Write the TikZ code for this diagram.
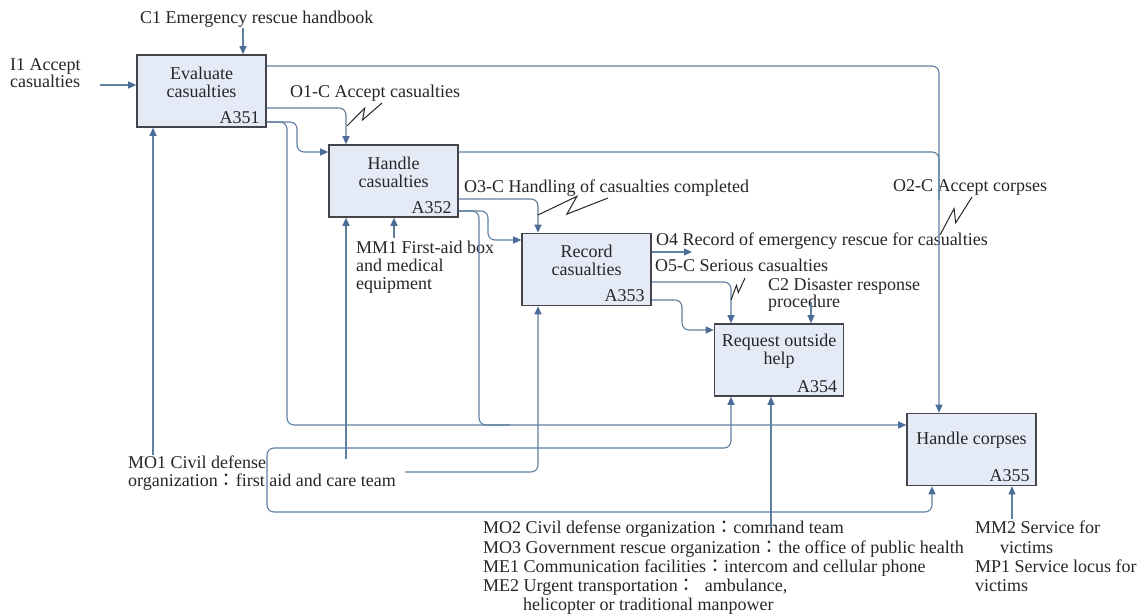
\documentclass[tikz,border=0pt]{standalone}
\usepackage{fontspec}
\setmainfont{Liberation Serif}
\newfontfamily\cjkfont{Noto Sans CJK TC}
\newcommand{\wcolon}{{\cjkfont ：}}
\usetikzlibrary{arrows.meta,calc}
\definecolor{boxfill}{RGB}{228,235,246}
\definecolor{boxedge}{RGB}{68,68,74}
\definecolor{wire}{RGB}{96,128,162}
\definecolor{tipcol}{RGB}{74,108,150}
\definecolor{txt}{RGB}{38,38,42}
\begin{document}
\begin{tikzpicture}[x=1pt,y=-1pt,
  font=\fontsize{18}{17.8}\selectfont,
  every node/.style={text=txt, inner sep=0pt},
  actbox/.style={draw=boxedge, fill=boxfill, line width=1.6pt,
    minimum width=129pt, minimum height=72pt},
  acttitle/.style={align=center},
  actid/.style={anchor=south east},
  lbl/.style={anchor=north west, align=left},
  wireline/.style={draw=wire, line width=1.1pt, rounded corners=7pt},
  flow/.style={wireline, -{Triangle[length=8pt,width=7pt,color=tipcol]}},
  zig/.style={draw=black!85, line width=1pt, line join=miter}]

\fill[white] (0,0) rectangle (1142,615);
\useasboundingbox (0,0) rectangle (1142,615);

% activity boxes
\node[actbox] (A351) at (201.5,91) {};
\node[actbox] (A352) at (393.5,181) {};
\node[actbox] (A353) at (586.5,269.5) {};
\node[actbox] (A354) at (779,360) {};
\node[actbox] (A355) at (971.5,449.5) {};

\node[acttitle] (t351) at ($(A351.center)+(0,-9)$) {Evaluate\\casualties};
\node[acttitle] (t352) at ($(A352.center)+(0,-9)$) {Handle\\casualties};
\node[acttitle] (t353) at ($(A353.center)+(0,-9)$) {Record\\casualties};
\node[acttitle] (t354) at ($(A354.center)+(0,-9)$) {Request outside\\help};
\node[acttitle] (t355) at ($(A355.center)+(0,-9)$) {Handle corpses};

\node[actid] (i351) at ($(A351.south east)+(-7,-4)$) {A351};
\node[actid] (i352) at ($(A352.south east)+(-7,-4)$) {A352};
\node[actid] (i353) at ($(A353.south east)+(-7,-4)$) {A353};
\node[actid] (i354) at ($(A354.south east)+(-7,-4)$) {A354};
\node[actid] (i355) at ($(A355.south east)+(-7,-4)$) {A355};

% arrow labels
\node[lbl] (c1) at (140,11) {C1 Emergency rescue handbook};
\node[lbl] (i1) at (10,58) {I1 Accept\\casualties};
\node[lbl] (o1) at (290,85) {O1-C Accept casualties};
\node[lbl] (o3) at (464,180) {O3-C Handling of casualties completed};
\node[lbl] (o2) at (893,179) {O2-C Accept corpses};
\node[lbl] (o4) at (656,233) {O4 Record of emergency rescue for casualties};
\node[lbl] (o5) at (655,259) {O5-C Serious casualties};
\node[lbl] (c2) at (768,278) {C2 Disaster response\\procedure};
\node[lbl] (mm1) at (356,241) {MM1 First-aid box\\and medical\\equipment};
\node[lbl] (mo1) at (128,456) {MO1 Civil defense\\organization\wcolon first aid and care team};
\node[lbl, font=\fontsize{18}{19.2}\selectfont] (mo2) at (483,521)
  {MO2 Civil defense organization\wcolon command team\\
   MO3 Government rescue organization\wcolon the office of public health\\
   ME1 Communication facilities\wcolon intercom and cellular phone\\
   ME2 Urgent transportation\wcolon\ \ ambulance,\\
   \hspace*{40pt}helicopter or traditional manpower};
\node[lbl, font=\fontsize{18}{19.2}\selectfont] (mm2) at (975,521)
  {MM2 Service for\\\hspace*{25pt}victims\\MP1 Service locus for\\victims};

% free ends of boundary arrows
\coordinate (i1s) at (100,85);
\coordinate (o4e) at (692,252);
\coordinate (c2s) at (811,302);
\coordinate (mo1a) at (153,455);
\coordinate (mo1b) at (346,459);
\coordinate (mo1c) at (405,472);
\coordinate (mo1d) at (267,470);
\coordinate (mm1s) at (394,238);
\coordinate (mo2s) at (771,528);
\coordinate (mm2s) at (1012,519);

% controls and inputs from the boundary
\draw[flow] (c1.south -| 243,0) -- (A351.north -| 243,0);
\draw[flow] (i1s) -- (A351.west |- i1s);
\draw[flow] (c2s) -- (A354.north -| c2s);

% A351 outputs
\draw[flow] (A351.east |- 0,66) -| (A355.north -| 939,0);
\draw[flow] (A351.east |- 0,108) -| (A352.north -| 346,0);
\draw[flow] (A351.east |- 0,122) -| (297,152) -- (A352.west |- 0,152);
\draw[flow] (A351.east |- 0,122) -| (287,425) -- (A355.west |- 0,425);

% A352 outputs
\draw[wireline] (A352.east |- 0,152) -| (939,200);
\draw[flow] (A352.east |- 0,199) -| (A353.north -| 538,0);
\draw[flow] (A352.east |- 0,211) -| (488,240) -- (A353.west |- 0,240);
\draw[wireline] (A352.east |- 0,211) -| (479,425) -- (510,425);

% A353 outputs
\draw[flow] (A353.east |- 0,252) -- (o4e);
\draw[flow] (A353.east |- 0,282) -| (A354.north -| 731,0);
\draw[flow] (A353.east |- 0,300) -| (682,330) -- (A354.west |- 0,330);

% mechanisms
\draw[flow] (mo1a) -- (A351.south -| mo1a);
\draw[flow] (mo1b) -- (A352.south -| mo1b);
\draw[flow] (mm1s) -- (A352.south -| mm1s);
\draw[flow] (mo1c) -| (A353.south -| 538,0);
\draw[flow] (mo1d) |- (731,448) -- (A354.south -| 731,0);
\draw[flow] (mo1d) |- (932,512) -- (A355.south -| 932,0);
\draw[flow] (mo2s) -- (A354.south -| mo2s);
\draw[flow] (mm2s) -- (A355.south -| mm2s);

% squiggles tying labels to their arrows
\coordinate (z1a) at (347,126); \coordinate (z1b) at (382,103);
\coordinate (z3a) at (538,215); \coordinate (z3b) at (608,198);
\coordinate (z5a) at (731,300); \coordinate (z5b) at (745,278);
\coordinate (z2a) at (940,235); \coordinate (z2b) at (972,197);
\foreach \z in {1,3,5,2}{
  \draw[zig] (z\z a) -- ($(z\z a)!0.6!12:(z\z b)$)
    -- ($(z\z a)!0.4!-12:(z\z b)$) -- (z\z b);
}
\end{tikzpicture}
\end{document}
